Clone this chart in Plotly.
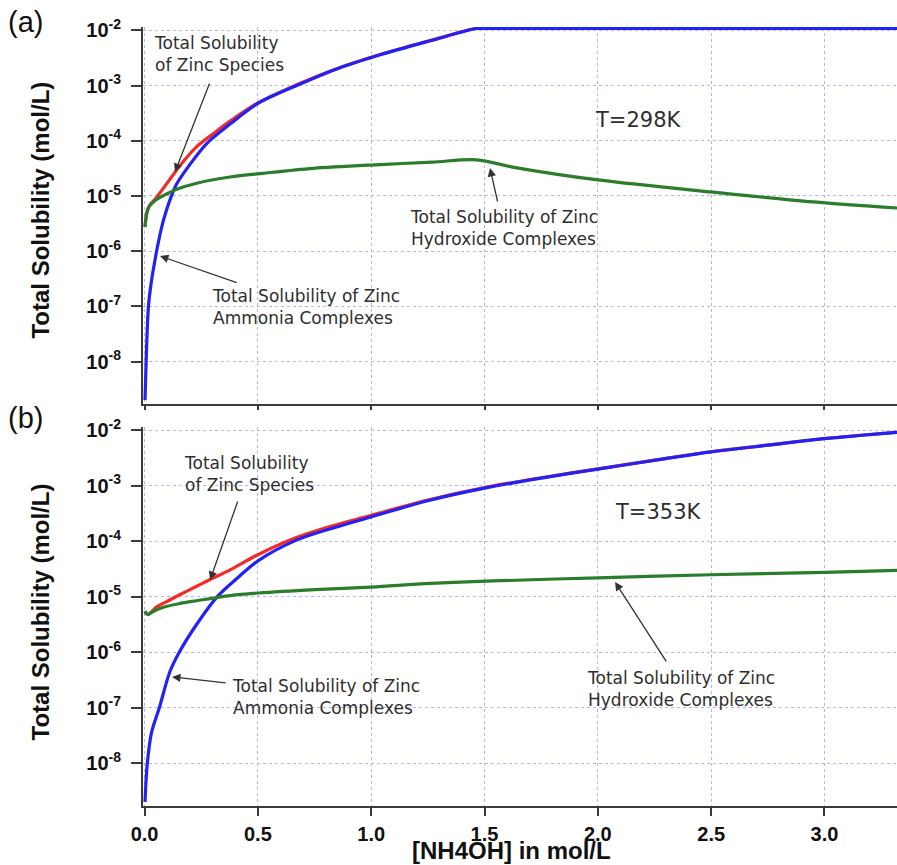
import plotly.graph_objects as go

# ---------------- data ----------------
# Panel (a) T = 298 K
x_blue_298 = [0.002, 0.004, 0.007, 0.011, 0.017, 0.025, 0.035, 0.046, 0.06, 0.083, 0.112, 0.142,
              0.193, 0.274, 0.377, 0.502, 0.671, 0.848, 1.04, 1.26, 1.465, 1.5, 2.0, 2.5, 3.0, 3.33]
y_blue_298 = [2.0e-9, 4.0e-9, 1.0e-8, 3.2e-8, 1.0e-7, 2.0e-7, 3.8e-7, 6.9e-7, 1.4e-6, 3.6e-6, 8.5e-6, 1.66e-5,
              3.4e-5, 8.9e-5, 2.0e-4, 4.8e-4, 1.0e-3, 2.0e-3, 3.6e-3, 6.45e-3, 1.08e-2, 1.08e-2, 1.08e-2,
              1.08e-2, 1.08e-2, 1.08e-2]

x_green_298 = [0.002, 0.005, 0.009, 0.016, 0.024, 0.031, 0.054, 0.08, 0.142, 0.23, 0.377, 0.523, 0.744,
               1.04, 1.27, 1.465, 1.63, 2.0, 2.51, 2.95, 3.33]
y_green_298 = [2.75e-6, 3.7e-6, 4.8e-6, 5.9e-6, 6.8e-6, 7.2e-6, 8.7e-6, 1.0e-5, 1.32e-5, 1.7e-5, 2.2e-5, 2.57e-5,
               3.16e-5, 3.7e-5, 4.1e-5, 4.5e-5, 3.3e-5, 1.95e-5, 1.17e-5, 7.8e-6, 6.0e-6]

x_red_298 = [0.002, 0.009, 0.016, 0.024, 0.046, 0.083, 0.127, 0.171, 0.23, 0.304, 0.377, 0.502,
             0.671, 0.848, 1.04, 1.26, 1.465, 1.5, 2.0, 2.5, 3.0, 3.33]
y_red_298 = [2.75e-6, 4.8e-6, 6.0e-6, 6.9e-6, 8.7e-6, 1.38e-5, 2.45e-5, 4.2e-5, 7.8e-5, 1.35e-4, 2.26e-4, 4.9e-4,
             1.03e-3, 2.02e-3, 3.65e-3, 6.5e-3, 1.09e-2, 1.09e-2, 1.09e-2, 1.09e-2, 1.09e-2, 1.09e-2]

# Panel (b) T = 353 K
x_blue_353 = [0.002, 0.006, 0.012, 0.03, 0.065, 0.112, 0.153, 0.23, 0.32, 0.421, 0.502, 0.67, 0.84,
              1.0, 1.25, 1.5, 1.75, 2.0, 2.3, 2.5, 2.75, 3.0, 3.33]
y_blue_353 = [2.0e-9, 4.5e-9, 1.0e-8, 3.5e-8, 1.0e-7, 4.5e-7, 1.0e-6, 3.2e-6, 1.0e-5, 2.4e-5, 4.5e-5, 1.05e-4,
              1.78e-4, 2.75e-4, 5.4e-4, 9.1e-4, 1.38e-3, 2.0e-3, 3.1e-3, 4.1e-3, 5.4e-3, 7.1e-3, 9.3e-3]

x_green_353 = [0.002, 0.008, 0.017, 0.04, 0.083, 0.157, 0.23, 0.377, 0.502, 0.75, 1.0, 1.26, 1.57,
               2.0, 2.5, 3.0, 3.33]
y_green_353 = [5.5e-6, 5.0e-6, 4.8e-6, 5.5e-6, 6.5e-6, 7.6e-6, 8.5e-6, 1.05e-5, 1.17e-5, 1.35e-5, 1.5e-5,
               1.74e-5, 1.95e-5, 2.2e-5, 2.5e-5, 2.75e-5, 3.0e-5]

x_red_353 = [0.002, 0.008, 0.017, 0.035, 0.053, 0.1, 0.157, 0.23, 0.289, 0.377, 0.502, 0.67, 0.818,
             1.0, 1.25, 1.5, 1.75, 2.0, 2.3, 2.5, 2.75, 3.0, 3.33]
y_red_353 = [5.5e-6, 5.0e-6, 4.9e-6, 5.6e-6, 6.6e-6, 8.3e-6, 1.1e-5, 1.55e-5, 2.05e-5, 3.05e-5, 5.8e-5, 1.17e-4,
             1.85e-4, 2.95e-4, 5.55e-4, 9.3e-4, 1.4e-3, 2.02e-3, 3.12e-3, 4.12e-3, 5.42e-3, 7.12e-3, 9.32e-3]

# tick labels
y_tickvals = [1e-8, 1e-7, 1e-6, 1e-5, 1e-4, 1e-3, 1e-2]
y_ticktext = ["10<sup>-8</sup>", "10<sup>-7</sup>", "10<sup>-6</sup>", "10<sup>-5</sup>",
              "10<sup>-4</sup>", "10<sup>-3</sup>", "10<sup>-2</sup>"]
x_tickvals = [0.0, 0.5, 1.0, 1.5, 2.0, 2.5, 3.0]
x_ticktext = ["0.0", "0.5", "1.0", "1.5", "2.0", "2.5", "3.0"]

# ---------------- figure ----------------
RED = "#f42a2a"
BLUE = "#2222f5"
GREEN = "#2b7d2b"
LW = 3.2

fig = go.Figure()

def add_panel(xr, yr, xb, yb, xg, yg, xa, ya):
    ln = dict(width=LW, shape="spline", smoothing=0.9)
    fig.add_trace(go.Scatter(x=xr, y=yr, mode="lines", line=dict(color=RED, **ln),
                             xaxis=xa, yaxis=ya, showlegend=False))
    fig.add_trace(go.Scatter(x=xb, y=yb, mode="lines", line=dict(color=BLUE, **ln),
                             xaxis=xa, yaxis=ya, showlegend=False))
    fig.add_trace(go.Scatter(x=xg, y=yg, mode="lines", line=dict(color=GREEN, **ln),
                             xaxis=xa, yaxis=ya, showlegend=False))

add_panel(x_red_298, y_red_298, x_blue_298, y_blue_298, x_green_298, y_green_298, "x", "y")
add_panel(x_red_353, y_red_353, x_blue_353, y_blue_353, x_green_353, y_green_353, "x2", "y2")

AXCOL = "#3a3a3a"
GRIDCOL = "#b4b4f2"
TICKFONT = dict(family="Liberation Sans, Arial, sans-serif", size=20, color="#111", weight="bold")
XRANGE = [-0.007, 3.32]
YRANGE = [-8.77, -1.94]

common_x = dict(range=XRANGE, tickmode="array", tickvals=x_tickvals, showgrid=True,
                gridcolor=GRIDCOL, griddash="dot", gridwidth=1, zeroline=False,
                showline=True, linecolor=AXCOL, linewidth=2, ticks="outside",
                tickcolor=AXCOL, tickwidth=1.5)
common_y = dict(type="log", range=YRANGE, tickmode="array", tickvals=y_tickvals, ticktext=y_ticktext,
                showgrid=True, gridcolor=GRIDCOL, griddash="dot", gridwidth=1, zeroline=False,
                showline=True, linecolor=AXCOL, linewidth=2, ticks="outside", ticklen=10,
                tickcolor=AXCOL, tickwidth=1.5, tickfont=TICKFONT, ticklabelstandoff=6)

fig.update_layout(
    width=897, height=865,
    margin=dict(l=143, r=0, t=27, b=59),
    paper_bgcolor="white", plot_bgcolor="white",
    xaxis=dict(**common_x, domain=[0, 1], anchor="y", ticklen=4, showticklabels=False),
    yaxis=dict(**common_y, domain=[0.516, 1.0], anchor="x"),
    xaxis2=dict(**common_x, domain=[0, 1], anchor="y2", ticklen=8, ticktext=x_ticktext,
                tickfont=TICKFONT, ticklabelstandoff=1),
    yaxis2=dict(**common_y, domain=[0.0, 0.4865], anchor="x2"),
)

ANN_FONT = dict(family="DejaVu Sans, sans-serif", size=17, color="#2e2e2e")
ARROWCOL = "#333333"

def text_ann(txt, x, y, xref, yref, size=17):
    f = dict(ANN_FONT)
    f["size"] = size
    fig.add_annotation(text=txt, x=x, y=y, xref=xref, yref=yref, showarrow=False,
                       xanchor="left", yanchor="middle", align="left", font=f)

def arrow_ann(x_tail, y_tail, x_head, y_head, xref, yref):
    fig.add_annotation(text="", x=x_head, y=y_head, ax=x_tail, ay=y_tail,
                       xref=xref, yref=yref, axref=xref, ayref=yref,
                       showarrow=True, arrowhead=2, arrowsize=1.3, arrowwidth=1.3,
                       arrowcolor=ARROWCOL, standoff=0, startstandoff=0)

# Panel (a) annotations
text_ann("Total Solubility<br>of Zinc Species", 0.033, -2.43, "x", "y")
arrow_ann(0.289, -2.936, 0.134, -4.567, "x", "y")
text_ann("Total Solubility of Zinc<br>Hydroxide Complexes", 1.162, -5.581, "x", "y")
arrow_ann(1.559, -5.128, 1.524, -4.494, "x", "y")
text_ann("Total Solubility of Zinc<br>Ammonia Complexes", 0.289, -7.012, "x", "y")
arrow_ann(0.413, -6.578, 0.068, -6.089, "x", "y")
text_ann("T=298K", 1.979, -3.625, "x", "y", size=21)

# Panel (b) annotations
text_ann("Total Solubility<br>of Zinc Species", 0.165, -2.787, "x2", "y2")
arrow_ann(0.413, -3.255, 0.289, -4.697, "x2", "y2")
text_ann("Total Solubility of Zinc<br>Ammonia Complexes", 0.377, -6.805, "x2", "y2")
arrow_ann(0.364, -6.553, 0.121, -6.445, "x2", "y2")
text_ann("Total Solubility of Zinc<br>Hydroxide Complexes", 1.943, -6.670, "x2", "y2")
arrow_ann(2.306, -6.192, 2.076, -4.733, "x2", "y2")
text_ann("T=353K", 2.067, -3.472, "x2", "y2", size=21)

# panel letters
LETTER_FONT = dict(family="Liberation Sans, Arial, sans-serif", size=29, color="#111")
fig.add_annotation(text="(a)", x=-0.182, y=1.0064, xref="paper", yref="paper", showarrow=False,
                   xanchor="left", yanchor="middle", font=LETTER_FONT)
fig.add_annotation(text="(b)", x=-0.182, y=0.498, xref="paper", yref="paper", showarrow=False,
                   xanchor="left", yanchor="middle", font=LETTER_FONT)

# axis titles
TITLE_FONT = dict(family="Liberation Sans, Arial, sans-serif", size=24, color="#111", weight="bold")
fig.add_annotation(text="Total Solubility (mol/L)", x=-0.136, y=0.765, xref="paper", yref="paper",
                   showarrow=False, textangle=-90, xanchor="center", yanchor="middle", font=TITLE_FONT)
fig.add_annotation(text="Total Solubility (mol/L)", x=-0.136, y=0.249, xref="paper", yref="paper",
                   showarrow=False, textangle=-90, xanchor="center", yanchor="middle", font=TITLE_FONT)
fig.add_annotation(text="[NH4OH] in mol/L", x=0.489, y=-0.0575, xref="paper", yref="paper",
                   showarrow=False, xanchor="center", yanchor="middle", font=TITLE_FONT)

fig.write_html("out.html", config={"displayModeBar": False},
               post_script="document.body.style.margin='0px';")
